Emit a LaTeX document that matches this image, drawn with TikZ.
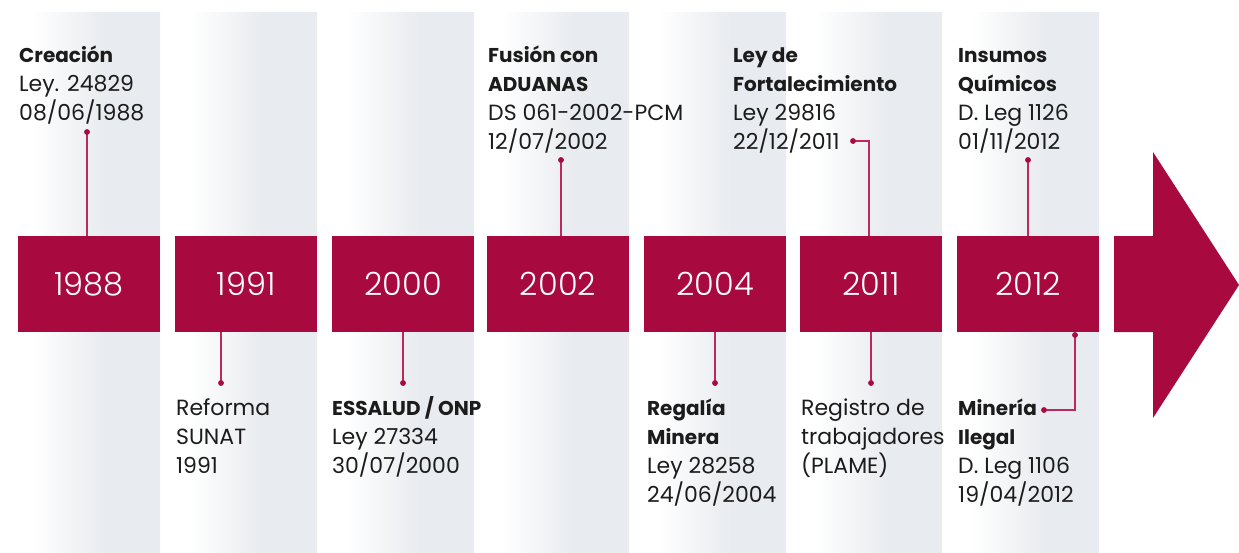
\documentclass[tikz,border=0pt]{standalone}
\usepackage{fontspec}
\setmainfont{Poppins}
\newfontfamily\yearfont{Poppins Light}
\definecolor{tlred}{RGB}{168,10,64}
\definecolor{connred}{RGB}{190,40,90}
\definecolor{colgrey}{RGB}{232,235,239}
\definecolor{txt}{RGB}{28,28,28}
\pgfdeclarehorizontalshading{colshade}{100bp}{color(0bp)=(white); color(25bp)=(white); color(30bp)=(white); color(56bp)=(colgrey); color(100bp)=(colgrey)}
\newcommand{\tblock}[1]{\begin{tabular}[t]{@{}l@{}}#1\end{tabular}}
\newcommand{\hd}[1]{{\fontsize{20}{29}\selectfont\bfseries #1}}
\begin{document}
\begin{tikzpicture}[x=1pt,y=-1pt,
  yearbox/.style={fill=tlred, text=white, minimum width=142pt, minimum height=96pt, inner sep=0pt, font=\yearfont\fontsize{32}{33}\selectfont},
  txtblock/.style={anchor=base west, inner sep=0pt, text=txt, font=\fontsize{22}{29}\selectfont},
  dot/.style={circle, fill=tlred, minimum size=5.5pt, inner sep=0pt},
  conn/.style={draw=connred, line width=1.3pt}]
\useasboundingbox (0,0) rectangle (1239,552);
% background columns
\foreach \cx in {18,175,332,487,644,800,957}
  \shade[shading=colshade] (\cx,12) rectangle ++(142,540);
% year boxes
\node[yearbox] (b1988) at (89,284) {\raisebox{-2pt}{1988}};
\node[yearbox] (b1991) at (246,284) {\raisebox{-2pt}{1991}};
\node[yearbox] (b2000) at (403,284) {\raisebox{-2pt}{2000}};
\node[yearbox] (b2002) at (558,284) {\raisebox{-2pt}{2002}};
\node[yearbox] (b2004) at (715,284) {\raisebox{-2pt}{2004}};
\node[yearbox] (b2011) at (871,284) {\raisebox{-2pt}{2011}};
\node[yearbox] (b2012) at (1028,284) {\raisebox{-2pt}{2012}};
% arrow
\fill[tlred] (1114,236) -- (1153,236) -- (1153,152) -- (1239,285) -- (1153,418) -- (1153,332) -- (1114,332) -- cycle;
% text blocks
\node[txtblock] (t1988) at (19,62) {\tblock{\hd{Creación}\\Ley. 24829\\08/06/1988}};
\node[txtblock] (t1991) at (176,415) {\tblock{Reforma\\SUNAT\\1991}};
\node[txtblock] (t2000) at (332,415) {\tblock{\hd{ESSALUD / ONP}\\Ley 27334\\30/07/2000}};
\node[txtblock] (t2002) at (488,62) {\tblock{\hd{Fusión con}\\\hd{ADUANAS}\\DS 061-2002-PCM\\12/07/2002}};
\node[txtblock] (t2004) at (647,415) {\tblock{\hd{Regalía}\\\hd{Minera}\\Ley 28258\\24/06/2004}};
\node[txtblock] (t2011a) at (733,62) {\tblock{\hd{Ley de}\\\hd{Fortalecimiento}\\Ley 29816\\22/12/2011}};
\node[txtblock] (t2011b) at (801,415) {\tblock{Registro de\\trabajadores\\(PLAME)}};
\node[txtblock] (t2012a) at (958,62) {\tblock{\hd{Insumos}\\\hd{Químicos}\\D. Leg 1126\\01/11/2012}};
\node[txtblock] (t2012b) at (958,415) {\tblock{\hd{Minería}\\\hd{Ilegal}\\D. Leg 1106\\19/04/2012}};
% dots
\node[dot] (d1988) at (87,132) {};
\node[dot] (d1991) at (221,383) {};
\node[dot] (d2000) at (403,383) {};
\node[dot] (d2002) at (561,160) {};
\node[dot] (d2004) at (715,383) {};
\node[dot] (d2011a) at (853,141) {};
\node[dot] (d2011b) at (871,383) {};
\node[dot] (d2012a) at (1028,160) {};
\node[dot] (d2012b) at (1044,410) {};
\node[dot] (d2012c) at (1075,335) {};
\coordinate (k2011) at (869,236);
% connectors
\draw[conn] (d1988.center) -- (b1988.north -| d1988);
\draw[conn] (d1991.center) -- (b1991.south -| d1991);
\draw[conn] (d2000.center) -- (b2000.south -| d2000);
\draw[conn] (d2002.center) -- (b2002.north -| d2002);
\draw[conn] (d2004.center) -- (b2004.south -| d2004);
\draw[conn] (d2011a.center) -| (k2011);
\draw[conn] (d2011b.center) -- (b2011.south -| d2011b);
\draw[conn] (d2012a.center) -- (b2012.north -| d2012a);
\draw[conn] (d2012b.center) -| (d2012c.center);
% redraw dots on top
\foreach \d in {d1988,d1991,d2000,d2002,d2004,d2011a,d2011b,d2012a,d2012b,d2012c}
  \fill[tlred] (\d) circle (2.75pt);
\end{tikzpicture}
\end{document}
